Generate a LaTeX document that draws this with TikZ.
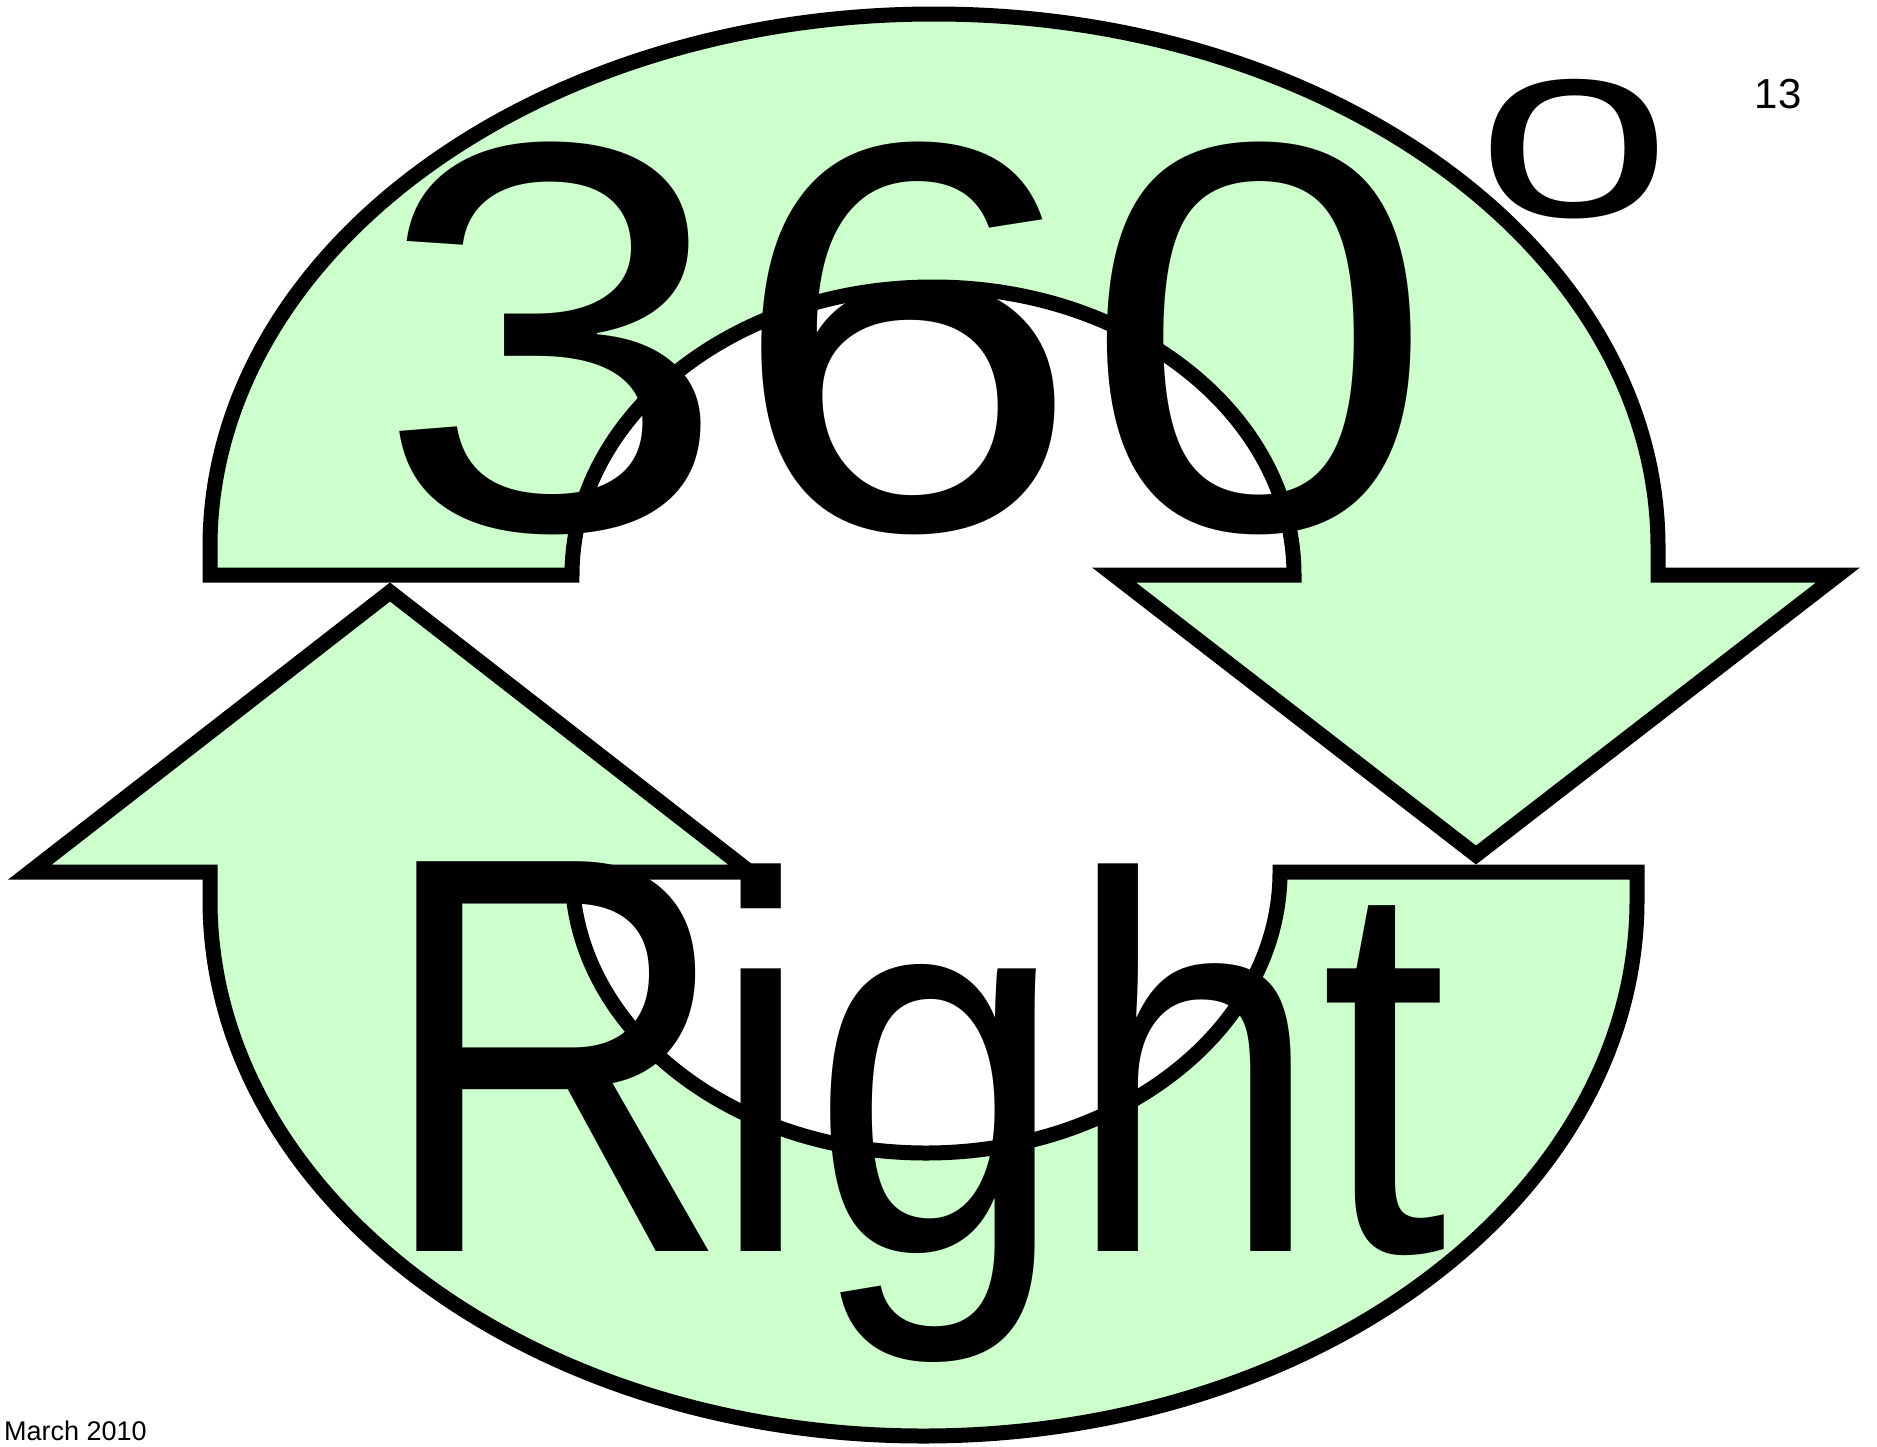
\documentclass[tikz,border=0pt]{standalone}
\usepackage{fontspec}
\setmainfont{Liberation Sans}
\usepackage{graphicx}
\definecolor{arrowfill}{HTML}{CCFFCC}
\begin{document}
\begin{tikzpicture}[x=1pt,y=-1pt,
  arrowshape/.style={fill=arrowfill, draw=black, line width=15pt, line join=miter},
  smalltext/.style={inner sep=0pt}]
\useasboundingbox[fill=white] (0,0) rectangle (1877,1446);
% top arrow (pointing down at right)
\draw[arrowshape] (210,575) -- (210,547) arc[start angle=180, end angle=360, x radius=724, y radius=533]
  -- (1658,575) -- (1838,575) -- (1476,855) -- (1114,575) -- (1294,575)
  arc[start angle=360, end angle=180, x radius=361, y radius=288] -- cycle;
% bottom arrow (pointing up at left)
\draw[arrowshape] (1637,872) -- (1637,900) arc[start angle=0, end angle=180, x radius=713.5, y radius=536]
  -- (210,872) -- (30,872) -- (390,592) -- (750,872) -- (572,872)
  arc[start angle=180, end angle=0, x radius=354, y radius=281] -- cycle;
% texts
\node[smalltext, anchor=base, font=\fontsize{555}{555}\selectfont] (num) at (906,529) {\scalebox{1.145}[1]{360}};
\node[smalltext, anchor=base, font=\fontsize{255}{255}\selectfont] (deg) at (1574,216) {\scalebox{1.38}[1]{o}};
\node[smalltext, anchor=base west, font=\fontsize{535}{535}\selectfont] (word) at (376,1251) {\scalebox{0.855}[1]{\scalebox{1.076}[1.059]{R}\kern-25pt ight}};
\node[smalltext, anchor=base, font=\fontsize{42}{42}\selectfont] (page) at (1778,108) {13};
\node[smalltext, anchor=base west, font=\fontsize{27}{27}\selectfont] (date) at (4,1440) {March 2010};
\end{tikzpicture}
\end{document}
